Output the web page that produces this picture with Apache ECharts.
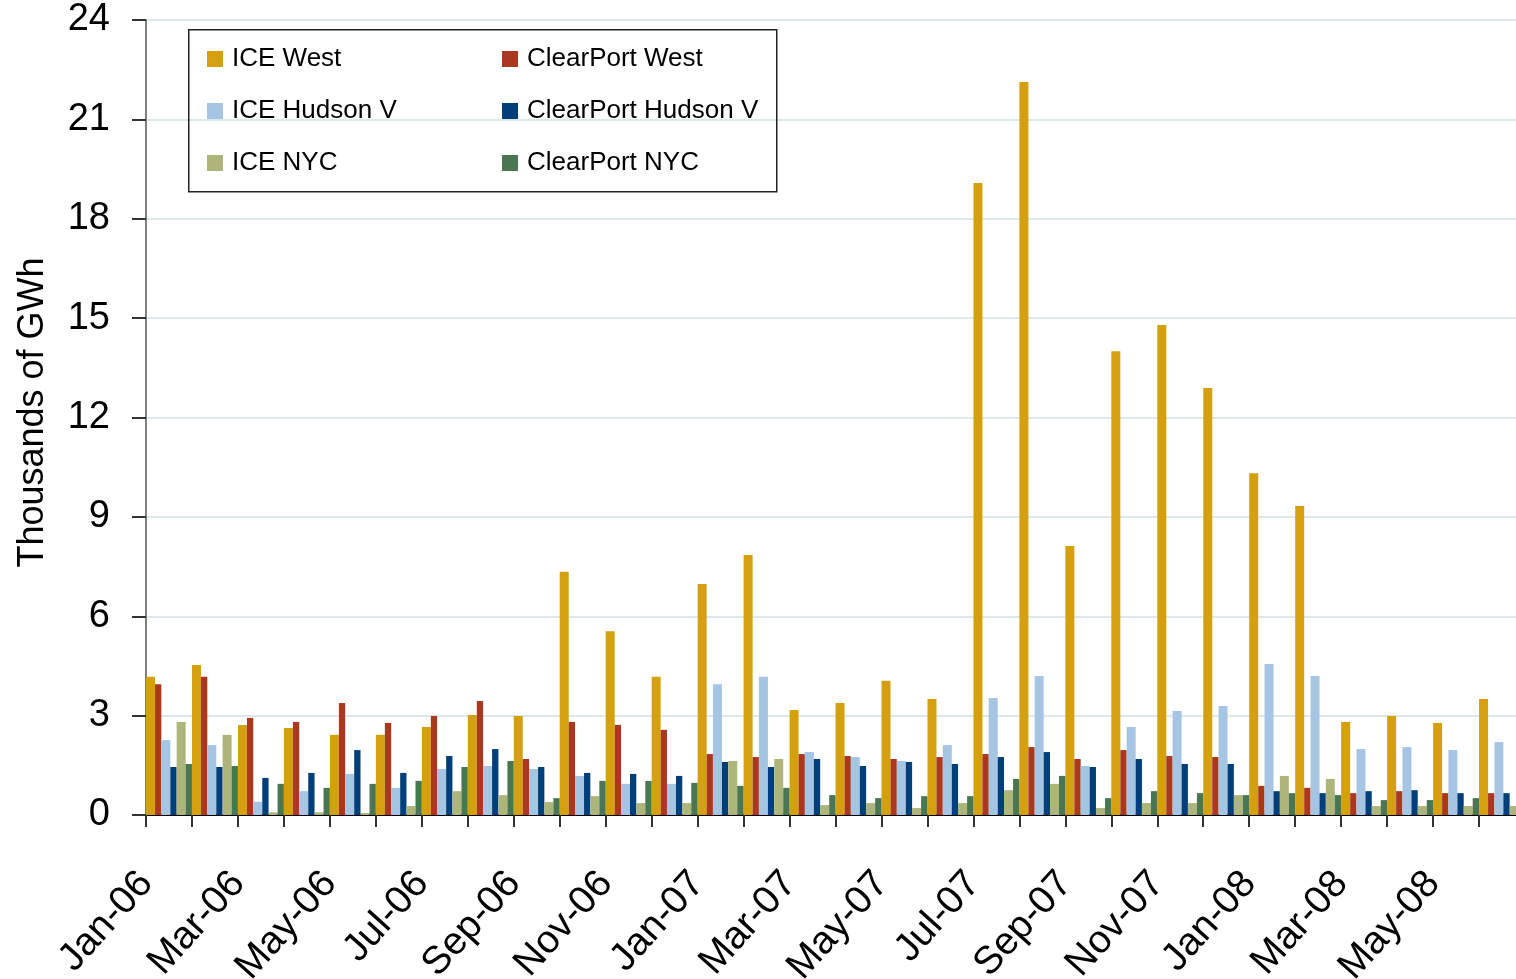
<!DOCTYPE html>
<html>
<head>
<meta charset="utf-8">
<script src="https://cdn.jsdelivr.net/npm/echarts@6/dist/echarts.min.js"></script>
<style>
html,body{margin:0;padding:0;background:#fff;overflow:hidden;}
#c{width:1516px;height:979px;}
</style>
</head>
<body>
<div id="c"></div>
<script>
const months = ['Jan-06','Feb-06','Mar-06','Apr-06','May-06','Jun-06','Jul-06','Aug-06','Sep-06','Oct-06','Nov-06','Dec-06',
  'Jan-07','Feb-07','Mar-07','Apr-07','May-07','Jun-07','Jul-07','Aug-07','Sep-07','Oct-07','Nov-07','Dec-07',
  'Jan-08','Feb-08','Mar-08','Apr-08','May-08','Jun-08'];
const iceWest = [4.17,4.53,2.72,2.63,2.42,2.42,2.66,3.02,2.99,7.34,5.55,4.17,6.97,7.85,3.17,3.38,4.05,3.50,19.08,22.13,8.12,14.0,14.79,12.89,10.32,9.33,2.81,2.99,2.78,3.50];
const cpWest = [3.95,4.17,2.93,2.81,3.38,2.78,2.99,3.44,1.69,2.81,2.72,2.57,1.84,1.75,1.84,1.78,1.69,1.75,1.84,2.05,1.69,1.96,1.78,1.75,0.88,0.82,0.66,0.72,0.66,0.66];
const iceHudson = [2.26,2.11,0.40,0.72,1.24,0.82,1.39,1.48,1.39,1.18,0.94,0.94,3.95,4.17,1.90,1.75,1.63,2.11,3.53,4.20,1.48,2.66,3.14,3.29,4.56,4.20,1.99,2.05,1.96,2.20];
const cpHudson = [1.45,1.45,1.12,1.27,1.96,1.27,1.78,1.99,1.45,1.27,1.24,1.18,1.60,1.45,1.69,1.48,1.60,1.54,1.75,1.90,1.45,1.69,1.54,1.54,0.72,0.66,0.72,0.75,0.66,0.66];
const iceNYC = [2.81,2.42,0.08,0.08,0.06,0.27,0.72,0.60,0.39,0.57,0.36,0.36,1.63,1.69,0.30,0.36,0.21,0.36,0.75,0.94,0.21,0.36,0.36,0.60,1.18,1.09,0.27,0.27,0.27,0.27];
const cpNYC = [1.54,1.48,0.94,0.82,0.94,1.03,1.45,1.63,0.51,1.03,1.03,0.97,0.88,0.82,0.60,0.51,0.57,0.57,1.09,1.18,0.51,0.72,0.66,0.60,0.66,0.60,0.45,0.45,0.51,0.50];

const seriesNames = ['ICE West','ClearPort West','ICE Hudson V','ClearPort Hudson V','ICE NYC','ClearPort NYC'];
const seriesData = [iceWest, cpWest, iceHudson, cpHudson, iceNYC, cpNYC];
const colors = ['#D4A010','#A9381F','#A5C5E3','#003F7A','#ADB57A','#4A7751'];
const widths = [9, 6.3, 9, 6.3, 9, 6.3];

const FONT = 'Liberation Sans, Arial, sans-serif';
const chart = echarts.init(document.getElementById('c'), null, {renderer:'canvas'});

const legendCommon = {
  orient: 'vertical',
  top: 41,
  itemWidth: 16,
  itemHeight: 16,
  itemGap: 26,
  icon: 'rect',
  textStyle: {fontSize: 26, fontFamily: FONT, color: '#000', lineHeight: 26, padding: [0,0,0,4]}
};

chart.setOption({
  animation: false,
  backgroundColor: '#fff',
  color: colors,
  grid: {left: 146, right: -9, top: 20, bottom: 164, containLabel: false, outerBoundsMode: 'none'},
  legend: [
    Object.assign({}, legendCommon, {left: 202, data: ['ICE West','ICE Hudson V','ICE NYC']}),
    Object.assign({}, legendCommon, {left: 497, data: ['ClearPort West','ClearPort Hudson V','ClearPort NYC']})
  ],
  graphic: [{
    type: 'rect', left: 188, top: 29, z: 100,
    shape: {width: 588, height: 162},
    style: {fill: 'rgba(0,0,0,0)', stroke: '#222', lineWidth: 1.5}
  }],
  xAxis: {
    type: 'category',
    data: months,
    axisLine: {lineStyle: {color: '#000', width: 2}},
    axisTick: {show: true, length: 12, lineStyle: {color: '#333', width: 2}, interval: 0},
    axisLabel: {interval: 1, rotate: 48, fontSize: 39, fontFamily: FONT, color: '#000', margin: 37, padding: [0, 34, 0, 0]},
    splitLine: {show: false}
  },
  yAxis: {
    type: 'value',
    min: 0, max: 24, interval: 3,
    name: 'Thousands of GWh',
    nameLocation: 'middle',
    nameGap: 95,
    nameRotate: 90,
    nameTextStyle: {fontSize: 36, fontFamily: FONT, color: '#000', padding: [0, 0, 0, 10]},
    axisLine: {show: true, lineStyle: {color: '#808080', width: 2}},
    axisTick: {show: true, inside: false, length: 14, lineStyle: {color: '#333', width: 2}},
    axisLabel: {fontSize: 38, fontFamily: FONT, color: '#000', margin: 36},
    splitLine: {show: true, lineStyle: {color: '#DCE8EC', width: 2}}
  },
  series: seriesNames.map((n, i) => ({
    name: n,
    type: 'bar',
    data: seriesData[i],
    barWidth: widths[i],
    barGap: 0,
    barCategoryGap: 0,
    itemStyle: {color: colors[i]}
  }))
});
</script>
</body>
</html>
